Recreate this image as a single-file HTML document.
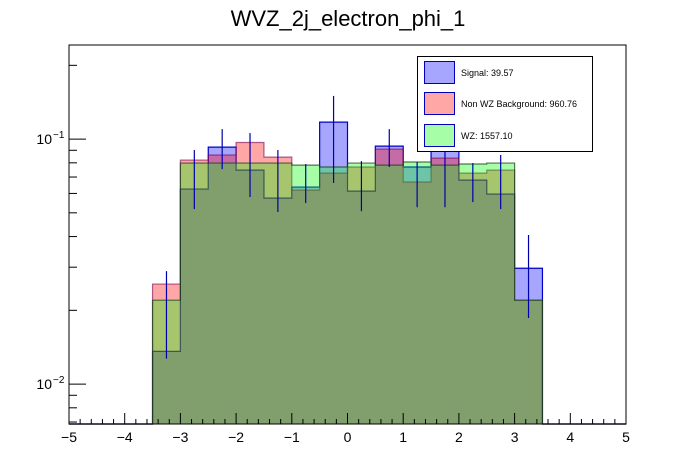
<!DOCTYPE html>
<html><head><meta charset="utf-8"><style>
body{margin:0;background:#fff;}
svg{display:block;font-family:"Liberation Sans",Arial,sans-serif;}
</style></head><body>
<svg id="chart" width="696" height="472" viewBox="0 0 696 472">
<rect x="0" y="0" width="696" height="472" fill="#fff"/>
<text x="348" y="26" font-size="22" text-anchor="middle" fill="#000">WVZ_2j_electron_phi_1</text>
<g id="marks"></g>
<g id="axes"></g>
<g>
<rect x="417.5" y="56.5" width="175" height="95" fill="#fff" stroke="#000" stroke-width="1"/>
<rect x="424.5" y="61.5" width="30" height="22" fill="rgba(0,0,255,0.35)" stroke="#0000bb"/>
<text x="461" y="76" font-size="9">Signal: 39.57</text>
<rect x="424.5" y="92.5" width="30" height="22" fill="rgba(255,0,0,0.35)" stroke="#0000bb"/>
<text x="461" y="107" font-size="9">Non WZ Background: 960.76</text>
<rect x="424.5" y="124.5" width="30" height="22" fill="rgba(0,255,0,0.35)" stroke="#0000bb"/>
<text x="461" y="139" font-size="9">WZ: 1557.10</text>
</g>
</svg>
<script>
const binEdgesLow = [-3.5,-3,-2.5,-2,-1.5,-1,-0.5,0,0.5,1,1.5,2,2.5,3];
const binWidth = 0.5;
const signalValues = [0.0136,0.0625,0.0927,0.0747,0.0574,0.0637,0.1173,0.0613,0.0936,0.0769,0.0945,0.0680,0.0596,0.0297];
const signalErrUp = [0.0153,0.0277,0.0171,0.0311,0.0328,0.0154,0.0327,0.0200,0.0162,0.0037,0.0205,0.0118,0.0265,0.0109];
const signalErrDown = [0.0009,0.0107,0.0173,0.0167,0.0070,0.0089,0.0511,0.0105,0.0167,0.0242,0.0418,0.0127,0.0078,0.0111];
const nonWZValues = [0.0256,0.0821,0.0861,0.0968,0.0844,0.0619,0.0726,0.0769,0.0910,0.0668,0.0836,0.0726,0.0747,0.0220];
const wzValues = [0.0220,0.0798,0.0798,0.0798,0.0798,0.0783,0.0769,0.0798,0.0783,0.0806,0.0783,0.0791,0.0798,0.0220];
const xTicks = [-5,-4,-3,-2,-1,0,1,2,3,4,5];

const X0=69, X1=626, Y0=45, Y1=424;
const LOGMIN=-2.163, LOGMAX=-0.616;
function sx(v){return X0+(v+5)/10*(X1-X0);}
function sy(v){const l=Math.log10(Math.max(v,1e-6));return Math.min(Y1,Y1-(l-LOGMIN)/(LOGMAX-LOGMIN)*(Y1-Y0));}
const NS='http://www.w3.org/2000/svg';
function mk(tag,attrs,parent){const e=document.createElementNS(NS,tag);for(const k in attrs)e.setAttribute(k,attrs[k]);parent.appendChild(e);return e;}
const marks=document.getElementById('marks');
const axes=document.getElementById('axes');

function drawHist(vals,fill,stroke,name){
  let d='M'+sx(-5)+','+Y1+' L'+sx(binEdgesLow[0])+','+Y1;
  vals.forEach((v,i)=>{
    const y=sy(v);
    d+=' L'+sx(binEdgesLow[i])+','+y+' L'+sx(binEdgesLow[i]+binWidth)+','+y;
  });
  d+=' L'+sx(binEdgesLow[vals.length-1]+binWidth)+','+Y1+' L'+sx(5)+','+Y1;
  const p=mk('path',{d:d+' Z',fill:fill,stroke:'none'},marks);
  
  
  const l=mk('path',{d:d,fill:'none',stroke:stroke,'stroke-width':1.2},marks);
  
  
}
drawHist(signalValues,'rgba(0,0,255,0.35)','#0000cc','signal-histogram');
drawHist(nonWZValues,'rgba(255,0,0,0.35)','rgba(120,0,80,0.6)','nonwz-histogram');
drawHist(wzValues,'rgba(0,255,0,0.35)','rgba(20,60,20,0.7)','wz-histogram');

signalValues.forEach((v,i)=>{
  const cx=sx(binEdgesLow[i]+binWidth/2);
  const e=mk('line',{x1:cx,x2:cx,y1:sy(v+signalErrUp[i]),y2:sy(Math.max(v-signalErrDown[i],1e-4)),stroke:'#0000aa','stroke-width':1.2},marks);
  
  
});

const fr=mk('rect',{x:X0,y:Y0,width:X1-X0,height:Y1-Y0,fill:'none',stroke:'#000','stroke-width':1},axes);


for(let k=0;k<=50;k++){
  const t=-5+k*0.2;
  const major=k%5===0;
  const mid=false;
  const len=major?11:5;
  mk('line',{x1:sx(t),x2:sx(t),y1:Y1,y2:Y1-len,stroke:'#000','stroke-width':1},axes);
}
xTicks.forEach(t=>{
  const tx=mk('text',{x:sx(t),y:442,'font-size':14,'text-anchor':'middle'},axes);
  tx.textContent=(t<0?'\u2212'+(-t):String(t));
  
  
});
for(let dec=-3;dec<=0;dec++){
  for(let m=1;m<=9;m++){
    const v=m*Math.pow(10,dec);
    const l=Math.log10(v);
    if(l<LOGMIN||l>LOGMAX)continue;
    const y=sy(v);
    mk('line',{x1:X0,x2:X0+(m===1?17:8),y1:y,y2:y,stroke:'#000','stroke-width':1},axes);
  }
}
[-1,-2].forEach(p=>{
  const y=sy(Math.pow(10,p));
  const t=mk('text',{x:52,y:y+5,'font-size':14,'text-anchor':'end'},axes);
  t.textContent='10';
  
  
  const s=mk('text',{x:53,y:y-1,'font-size':10,'text-anchor':'start'},axes);
  s.textContent='\u2212'+(-p);
  
  
});
</script>
</body></html>
